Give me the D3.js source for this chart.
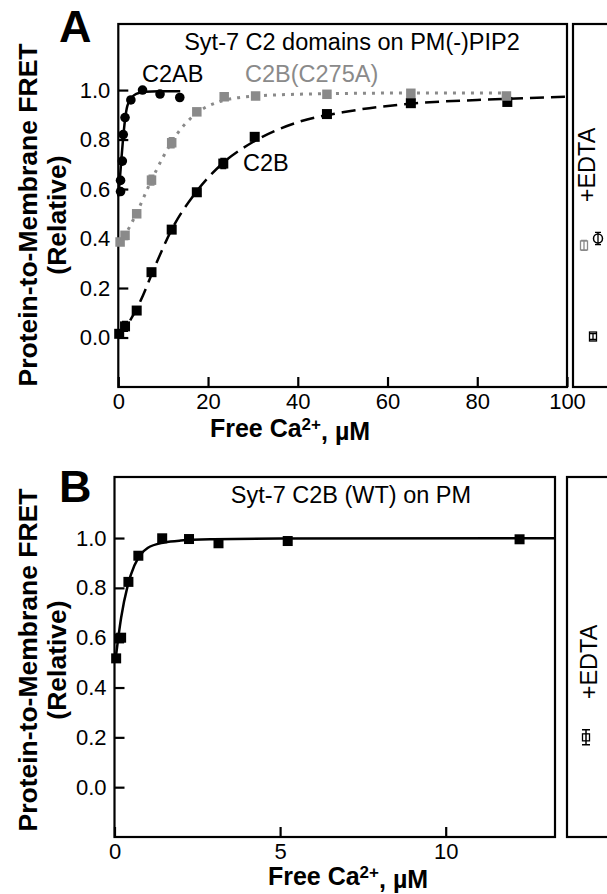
<!DOCTYPE html>
<html>
<head>
<meta charset="utf-8">
<script src="https://cdn.jsdelivr.net/npm/d3@7"></script>
<style>
  body { margin: 0; background: #fff; }
  svg { display: block; font-family: "Liberation Sans", Arial, Helvetica, sans-serif; }
</style>
</head>
<body>
<svg id="chart" width="607" height="894"></svg>
<script>
// ---- panel A data: Syt-7 C2 domains on PM(-)PIP2 ----
var c2abX = [0.5, 0.5, 0.9, 1.1, 1.5, 2.8, 5.4, 9.3, 13.7];
var c2abY = [0.59, 0.635, 0.713, 0.82, 0.889, 0.96, 1.0, 0.984, 0.97];
// fitted curve
var c2abFitX = [0, 0.3, 0.6, 1.0, 1.5, 2.0, 3.0, 4.0, 6.0, 9.0, 13.8];
var c2abFitY = [0.57, 0.63, 0.70, 0.79, 0.88, 0.935, 0.97, 0.985, 0.993, 0.995, 0.995];

var mutX = [0.4, 1.5, 4.1, 7.4, 11.9, 17.5, 23.6, 30.6, 46.5, 65.2, 86.5];
var mutY = [0.386, 0.413, 0.50, 0.636, 0.787, 0.912, 0.973, 0.976, 0.983, 0.987, 0.976];
var mutErr = [0, 0, 0, 0.02, 0.02, 0, 0, 0, 0, 0, 0];
var mutFitX = [0, 2, 4, 7, 10, 13, 17, 22, 30, 45, 65, 86.5];
var mutFitY = [0.375, 0.43, 0.50, 0.62, 0.73, 0.82, 0.90, 0.95, 0.975, 0.985, 0.988, 0.988];

var c2bX = [0.2, 1.5, 4.1, 7.4, 11.9, 17.5, 23.4, 30.4, 46.5, 65.2, 86.7];
var c2bY = [0.015, 0.045, 0.109, 0.264, 0.436, 0.587, 0.703, 0.811, 0.903, 0.947, 0.952];
var c2bErr = [0.01, 0.02, 0, 0, 0, 0, 0.02, 0.015, 0, 0, 0];
var c2bFitX = [0, 2, 5, 8, 12, 17, 23, 30, 40, 50, 65, 80, 100];
var c2bFitY = [0.0, 0.05, 0.15, 0.28, 0.44, 0.58, 0.70, 0.79, 0.87, 0.91, 0.945, 0.96, 0.973];

// +EDTA controls (panel A)
var edtaAY = [0.372, 0.40, 0.004];
var edtaAErr = [0.02, 0.025, 0.012];

// ---- panel B data: Syt-7 C2B (WT) on PM ----
var wtX = [0.05, 0.14, 0.2, 0.42, 0.72, 1.44, 2.25, 3.14, 5.23, 12.23];
var wtY = [0.517, 0.597, 0.60, 0.824, 0.929, 0.999, 0.996, 0.979, 0.988, 0.995];
var wtFitX = [0.02, 0.2, 0.4, 0.6, 0.8, 1.0, 1.5, 2.0, 3.0, 5.0, 13.3];
var wtFitY = [0.50, 0.68, 0.81, 0.89, 0.935, 0.96, 0.982, 0.99, 0.995, 0.998, 0.999];
var edtaBY = [0.2];
var edtaBErr = [0.03];

var yTicks = [0, 0.2, 0.4, 0.6, 0.8, 1.0];
var xTicksA = [0, 20, 40, 60, 80, 100];
var xTicksB = [0, 5, 10];

var GRAY = "#8a8a8a";
var svg = d3.select("#chart");
svg.append("rect").attr("width", 607).attr("height", 894).attr("fill", "#fff");

function zip(xs, ys) {
  return xs.map(function(x, i) { return { x: x, y: ys[i] }; });
}

function drawPanel(cfg) {
  var x = d3.scaleLinear().domain(cfg.xDomain).range([cfg.left, cfg.right]);
  var y = d3.scaleLinear().domain(cfg.yDomain).range([cfg.bottom, cfg.top]);
  var g = svg.append("g");

  // y axis, ticks pointing inward
  var yAxis = d3.axisLeft(y).tickValues(yTicks).tickFormat(d3.format(".1f"))
      .tickSizeInner(-10).tickSizeOuter(0).tickPadding(8);
  var ya = g.append("g").attr("transform", "translate(" + cfg.left + ",0)").call(yAxis);
  ya.select(".domain").remove();

  var xAxis = d3.axisBottom(x).tickValues(cfg.xTicks).tickFormat(d3.format("d"))
      .tickSizeInner(-10).tickSizeOuter(0).tickPadding(6);
  var xa = g.append("g").attr("transform", "translate(0," + cfg.bottom + ")").call(xAxis);
  xa.select(".domain").remove();

  [ya, xa].forEach(function(a) {
    a.selectAll("line").attr("stroke", "#000").attr("stroke-width", 2.2);
    a.selectAll("text").attr("fill", "#000").style("font-size", "22px")
      .style("font-family", "Liberation Sans, Arial, sans-serif");
  });

  // frame
  g.append("rect")
    .attr("x", cfg.left).attr("y", cfg.top)
    .attr("width", cfg.right - cfg.left).attr("height", cfg.bottom - cfg.top)
    .attr("fill", "none").attr("stroke", "#000").attr("stroke-width", 2.2);

  // side +EDTA panel
  g.append("rect")
    .attr("x", cfg.sideLeft).attr("y", cfg.top)
    .attr("width", 80).attr("height", cfg.bottom - cfg.top)
    .attr("fill", "none").attr("stroke", "#000").attr("stroke-width", 2.2);

  g.append("text")
    .attr("transform", "translate(" + cfg.edtaTextX + "," + cfg.edtaTextY + ") rotate(-90)")
    .attr("text-anchor", "middle").style("font-size", "23.5px").text("+EDTA");

  // title
  g.append("text").attr("x", cfg.titleX).attr("y", cfg.top + 26)
    .attr("text-anchor", "middle").style("font-size", "23.5px").text(cfg.title);

  // panel letter
  g.append("text").attr("x", cfg.letterX).attr("y", cfg.letterY)
    .style("font-size", "45px").style("font-weight", "bold").text(cfg.letter);

  // axis titles
  var xt = g.append("text").attr("x", cfg.xTitleX).attr("y", cfg.xTitleY)
    .attr("text-anchor", "middle").style("font-size", "25px").style("font-weight", "bold");
  xt.append("tspan").text("Free Ca");
  xt.append("tspan").attr("dy", "-0.4em").style("font-size", "17px").text("2+");
  xt.append("tspan").attr("dy", "0.4em").text(", \u00b5M");

  var midY = cfg.yTitleY;
  g.append("text").attr("transform", "translate(37," + midY + ") rotate(-90)")
    .attr("text-anchor", "middle").style("font-size", "26.5px").style("font-weight", "bold")
    .text("Protein-to-Membrane FRET");
  g.append("text").attr("transform", "translate(66," + midY + ") rotate(-90)")
    .attr("text-anchor", "middle").style("font-size", "26.5px").style("font-weight", "bold")
    .text("(Relative)");

  return { g: g, x: x, y: y };
}

var line = function(x, y) {
  return d3.line().x(function(d) { return x(d.x); }).y(function(d) { return y(d.y); })
    .curve(d3.curveMonotoneX);
};

function squares(g, x, y, data, color, size) {
  g.selectAll(null).data(data).enter().append("rect")
    .attr("x", function(d) { return x(d.x) - size / 2; })
    .attr("y", function(d) { return y(d.y) - size / 2; })
    .attr("width", size).attr("height", size).attr("fill", color);
}

function errBars(g, x, y, data, errs, color) {
  var pts = data.map(function(d, i) { return { x: d.x, y: d.y, e: errs[i] }; })
    .filter(function(d) { return d.e > 0; });
  g.selectAll(null).data(pts).enter().append("path")
    .attr("d", function(d) {
      var cx = x(d.x), y1 = y(d.y + d.e), y0 = y(d.y - d.e);
      return "M" + (cx - 3) + "," + y1 + "H" + (cx + 3) + "M" + cx + "," + y1 +
        "V" + y0 + "M" + (cx - 3) + "," + y0 + "H" + (cx + 3);
    })
    .attr("stroke", color).attr("stroke-width", 1.5).attr("fill", "none");
}

// ---------------- Panel A ----------------
var A = drawPanel({
  xDomain: [0, 100], yDomain: [-0.2, 1.267],
  left: 118.3, right: 567, top: 24, bottom: 387,
  sideLeft: 573, xTicks: xTicksA,
  title: "Syt-7 C2 domains on PM(-)PIP2", titleX: 352,
  letter: "A", letterX: 59, letterY: 42,
  xTitleX: 290, xTitleY: 437, yTitleY: 215,
  edtaTextX: 595, edtaTextY: 165
});

var ga = A.g, xA = A.x, yA = A.y;

ga.append("path").datum(zip(c2bFitX, c2bFitY)).attr("d", line(xA, yA))
  .attr("fill", "none").attr("stroke", "#000").attr("stroke-width", 2.5)
  .attr("stroke-dasharray", "14,7");
ga.append("path").datum(zip(mutFitX, mutFitY)).attr("d", line(xA, yA))
  .attr("fill", "none").attr("stroke", GRAY).attr("stroke-width", 3)
  .attr("stroke-dasharray", "3,6");
ga.append("path").datum(zip(c2abFitX, c2abFitY)).attr("d", line(xA, yA))
  .attr("fill", "none").attr("stroke", "#000").attr("stroke-width", 2.5);

errBars(ga, xA, yA, zip(c2bX, c2bY), c2bErr, "#000");
squares(ga, xA, yA, zip(c2bX, c2bY), "#000", 10);
errBars(ga, xA, yA, zip(mutX, mutY), mutErr, GRAY);
squares(ga, xA, yA, zip(mutX, mutY), GRAY, 9.5);

ga.selectAll(null).data(zip(c2abX, c2abY)).enter().append("circle")
  .attr("cx", function(d) { return xA(d.x); })
  .attr("cy", function(d) { return yA(d.y); })
  .attr("r", 4.8).attr("fill", "#000");

// curve labels
ga.append("text").attr("x", 142).attr("y", 82).style("font-size", "23.5px").text("C2AB");
ga.append("text").attr("x", 245).attr("y", 82).style("font-size", "23.5px")
  .attr("fill", GRAY).text("C2B(C275A)");
ga.append("text").attr("x", 243).attr("y", 171).style("font-size", "23.5px").text("C2B");

// +EDTA markers (gray square, black circle, black square)
var edtaAX = [584, 598, 593];
edtaAY.forEach(function(v, i) {
  var cx = edtaAX[i], cy = yA(v), e = yA(v - edtaAErr[i]) - cy;
  var col = i === 0 ? GRAY : "#000";
  ga.append("path")
    .attr("d", "M" + (cx - 3) + "," + (cy - e) + "H" + (cx + 3) + "M" + cx + "," + (cy - e) +
      "V" + (cy + e) + "M" + (cx - 3) + "," + (cy + e) + "H" + (cx + 3))
    .attr("stroke", col).attr("stroke-width", 1.3).attr("fill", "none");
  if (i === 1) {
    ga.append("circle").attr("cx", cx).attr("cy", cy).attr("r", 4.5)
      .attr("fill", "none").attr("stroke", col).attr("stroke-width", 1.5);
  } else {
    ga.append("rect").attr("x", cx - 3.5).attr("y", cy - 4.5).attr("width", 7).attr("height", 9)
      .attr("fill", "none").attr("stroke", col).attr("stroke-width", 1.3);
  }
});

// ---------------- Panel B ----------------
var B = drawPanel({
  xDomain: [0, 13.3], yDomain: [-0.2, 1.245],
  left: 114.5, right: 555, top: 477, bottom: 837,
  sideLeft: 567, xTicks: xTicksB,
  title: "Syt-7 C2B (WT) on PM", titleX: 351,
  letter: "B", letterX: 59, letterY: 502,
  xTitleX: 348, xTitleY: 885, yTitleY: 660,
  edtaTextX: 597, edtaTextY: 662
});

var gb = B.g, xB = B.x, yB = B.y;
gb.append("path").datum(zip(wtFitX, wtFitY)).attr("d", line(xB, yB))
  .attr("fill", "none").attr("stroke", "#000").attr("stroke-width", 2.5);
squares(gb, xB, yB, zip(wtX, wtY), "#000", 10);

edtaBY.forEach(function(v, i) {
  var cx = 586, cy = yB(v), e = yB(v - edtaBErr[i]) - cy;
  gb.append("path")
    .attr("d", "M" + (cx - 4) + "," + (cy - e) + "H" + (cx + 4) + "M" + cx + "," + (cy - e) +
      "V" + (cy + e) + "M" + (cx - 4) + "," + (cy + e) + "H" + (cx + 4))
    .attr("stroke", "#000").attr("stroke-width", 1.5).attr("fill", "none");
  gb.append("rect").attr("x", cx - 3.5).attr("y", cy - 3.5).attr("width", 7).attr("height", 7)
    .attr("fill", "none").attr("stroke", "#000").attr("stroke-width", 1.3);
});
</script>
</body>
</html>
